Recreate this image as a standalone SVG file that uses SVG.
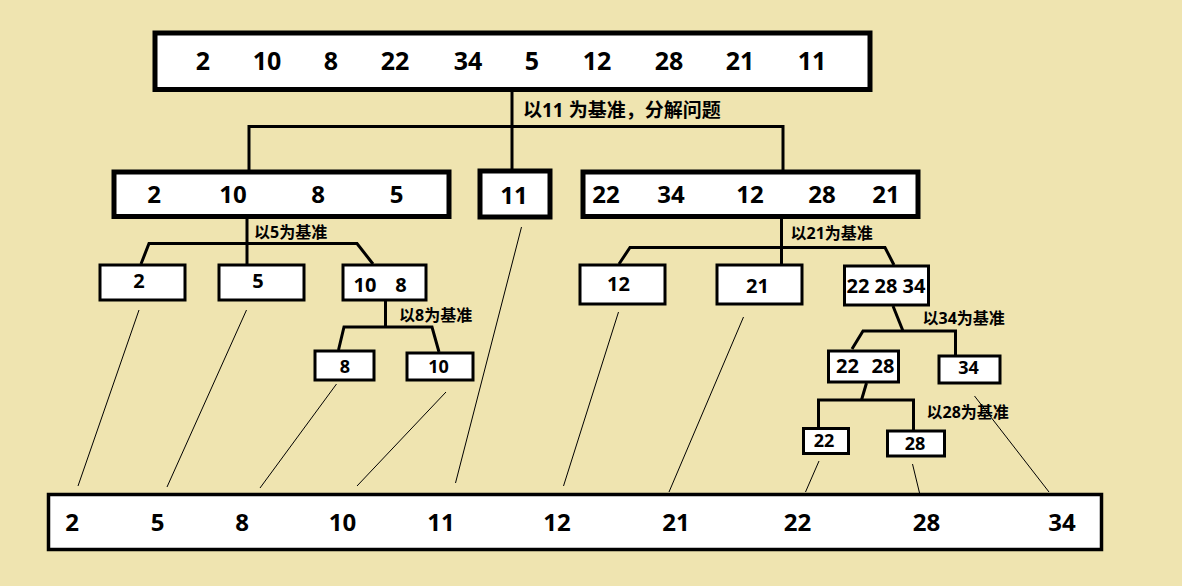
<svg xmlns="http://www.w3.org/2000/svg" width="1182" height="586" viewBox="0 0 1182 586">
<style>
.bg{fill:#EFE4B0}
.big{fill:#fff;stroke:#000;stroke-width:5}
.sm{fill:#fff;stroke:#000;stroke-width:3}
.n{font-family:"Open Sans","Noto Sans CJK SC",sans-serif;font-weight:bold;fill:#000;text-anchor:middle}
.n25{font-size:25px}
.n24{font-size:24px}
.n20{font-size:20px}
.n18{font-size:18px}
.lb{font-family:"Open Sans","Noto Sans CJK SC",sans-serif;font-weight:bold;fill:#000;font-size:16px}
.lbt{font-size:19px}
.thick{fill:none;stroke:#000;stroke-width:3;stroke-linejoin:miter}
.thin{fill:none;stroke:#000;stroke-width:1}
</style>
<rect class="bg" x="0" y="0" width="1182" height="586"/>
<g id="connectors">
<line class="thick" x1="512" y1="92" x2="512" y2="171"/>
<polyline class="thick" points="249,172 249,126.5 783,126.5 783,172"/>
<line class="thick" x1="247" y1="219" x2="247" y2="265"/>
<polyline class="thick" points="141,264 149,243.5 357,243.5 373,264"/>
<line class="thick" x1="385.5" y1="301" x2="385.5" y2="327"/>
<polyline class="thick" points="338.5,350 344,327 432,327 439,352"/>
<line class="thick" x1="781.5" y1="219" x2="781.5" y2="265"/>
<polyline class="thick" points="619,264 630,247.5 885,247.5 894,265"/>
<line class="thick" x1="893" y1="306" x2="903" y2="331"/>
<polyline class="thick" points="852,349 863,331 955.5,331 955.5,356"/>
<line class="thick" x1="866.5" y1="383" x2="861.5" y2="400"/>
<polyline class="thick" points="818.5,428 818.5,400 913.5,400 913.5,431"/>
<line class="thin" x1="139" y1="310" x2="78" y2="486"/>
<line class="thin" x1="246.5" y1="310" x2="167" y2="487"/>
<line class="thin" x1="336.5" y1="384" x2="260" y2="488"/>
<line class="thin" x1="446" y1="392" x2="357" y2="486"/>
<line class="thin" x1="521.5" y1="227" x2="455.5" y2="483"/>
<line class="thin" x1="618.5" y1="312" x2="563.5" y2="486"/>
<line class="thin" x1="743.5" y1="317" x2="669" y2="492"/>
<line class="thin" x1="819" y1="461" x2="805.5" y2="492"/>
<line class="thin" x1="912.5" y1="464" x2="920.5" y2="497"/>
<line class="thin" x1="974.5" y1="396" x2="1049" y2="492"/>
<text class="lb lbt" x="523" y="117">以11 为基准，分解问题</text>
<text class="lb" x="254" y="238">以5为基准</text>
<text class="lb" x="399" y="320.5">以8为基准</text>
<text class="lb" x="790.5" y="239">以21为基准</text>
<text class="lb" x="922.5" y="324">以34为基准</text>
<text class="lb" x="926.5" y="418">以28为基准</text>
</g>
<g id="top">
<rect class="big" x="155" y="33" width="715" height="56.5"/>
<text class="n n25" y="70"><tspan x="203">2</tspan><tspan x="267">10</tspan><tspan x="331">8</tspan><tspan x="395">22</tspan><tspan x="468">34</tspan><tspan x="532">5</tspan><tspan x="597">12</tspan><tspan x="669">28</tspan><tspan x="740">21</tspan><tspan x="812">11</tspan></text>
</g>
<g id="left">
<rect class="big" x="114" y="172" width="335" height="44.5"/>
<text class="n n24" y="203"><tspan x="154">2</tspan><tspan x="233">10</tspan><tspan x="318">8</tspan><tspan x="396.5">5</tspan></text>
</g>
<g id="pivot11">
<rect class="big" x="480" y="171" width="70" height="46"/>
<text class="n n24" x="514" y="204">11</text>
</g>
<g id="right">
<rect class="big" x="583" y="172" width="335" height="44.5"/>
<text class="n n24" y="203"><tspan x="606">22</tspan><tspan x="671">34</tspan><tspan x="750">12</tspan><tspan x="822">28</tspan><tspan x="886">21</tspan></text>
</g>
<g id="b2">
<rect class="sm" x="100" y="265" width="85" height="35"/>
<text class="n n20" x="139" y="288">2</text>
</g>
<g id="b5">
<rect class="sm" x="219" y="265" width="85" height="35"/>
<text class="n n20" x="258" y="288">5</text>
</g>
<g id="b108">
<rect class="sm" x="343" y="265" width="83" height="35"/>
<text class="n n20" y="291.5"><tspan x="365">10</tspan><tspan x="401">8</tspan></text>
</g>
<g id="b8">
<rect class="sm" x="315" y="351" width="59" height="29"/>
<text class="n n18" x="345" y="372.5">8</text>
</g>
<g id="b10">
<rect class="sm" x="407" y="353" width="66" height="27"/>
<text class="n n18" x="438.5" y="372.5">10</text>
</g>
<g id="b12">
<rect class="sm" x="580" y="265" width="85" height="39"/>
<text class="n n20" x="618.5" y="291">12</text>
</g>
<g id="b21">
<rect class="sm" x="717" y="265" width="85" height="39"/>
<text class="n n20" x="757.5" y="292.5">21</text>
</g>
<g id="b222834">
<rect class="sm" x="844.5" y="266" width="84" height="39"/>
<text class="n n20" x="886" y="292.5">22 28 34</text>
</g>
<g id="b2228">
<rect class="sm" x="828.5" y="351" width="70" height="31"/>
<text class="n n20" y="372.5"><tspan x="847.5">22</tspan><tspan x="883">28</tspan></text>
</g>
<g id="b34">
<rect class="sm" x="939" y="356" width="61" height="27"/>
<text class="n n18" x="968.5" y="374">34</text>
</g>
<g id="b22">
<rect class="sm" x="803.5" y="428.5" width="45" height="25"/>
<text class="n n18" x="824" y="446.5">22</text>
</g>
<g id="b28">
<rect class="sm" x="887.5" y="431" width="57" height="25"/>
<text class="n n18" x="915" y="450">28</text>
</g>
<g id="sorted">
<rect x="48.5" y="494.5" width="1053" height="55" fill="#fff" stroke="#000" stroke-width="3.5"/>
<text class="n n24" y="530.5"><tspan x="72">2</tspan><tspan x="157.5">5</tspan><tspan x="242">8</tspan><tspan x="342.5">10</tspan><tspan x="441">11</tspan><tspan x="557">12</tspan><tspan x="676">21</tspan><tspan x="797.5">22</tspan><tspan x="926.5">28</tspan><tspan x="1062">34</tspan></text>
</g>
</svg>
